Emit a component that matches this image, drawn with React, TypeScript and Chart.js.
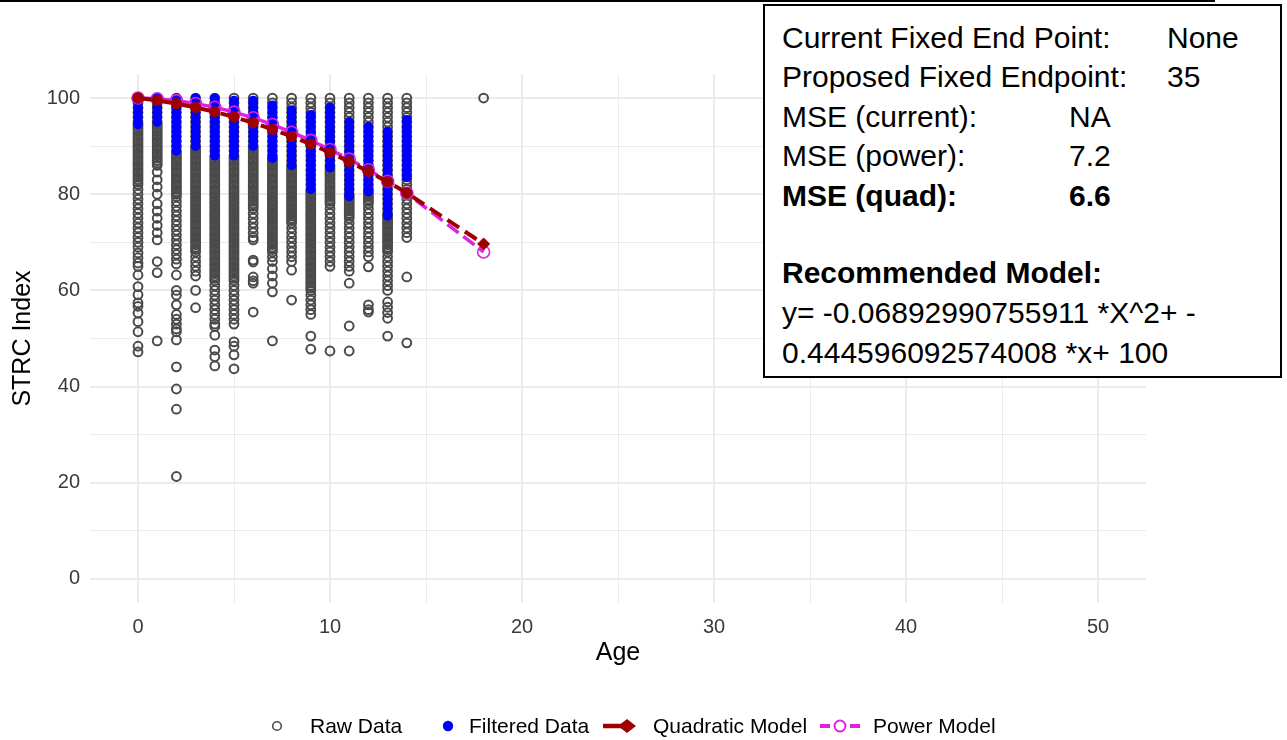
import React, { useEffect, useRef } from 'react';
import { Chart, registerables } from 'chart.js';
Chart.register(...registerables);

// ---------- data ----------
const ages = [0, 1, 2, 3, 4, 5, 6, 7, 8, 9, 10, 11, 12, 13, 14, 18];

const raw0 = [100,99,98,97,96,95,94.5,94,93.5,93,92.5,92,91.5,91,90.5,90,89.5,89,88.5,88,87.5,87,86.5,86,85.5,85,84.5,84,83.5,83,82.5,82,81,80,79,78,77,76,75,74,73,72,71,70,69,67.8,66.8,65.7,65,63.2,60.8,59.1,57.4,56.7,55.3,53.5,51.4,48.4,47.2];
const raw1 = [100,99,98,97,96,95,94.5,94,93.5,93,92.5,92,91.5,91,90.5,90,89.5,89,88.5,88,87.5,87,86.5,86,84.6,83,81.5,80,78,76.5,75,73.5,72,70.5,66,63.7,49.5];
const raw2 = [100,99,98,97,96,95,94,93,92,91,90,89,88.5,88,87.5,87,86.5,86,85.5,85,84.5,84,83.5,83,82.5,82,81.5,81,80.5,80,79.5,78.5,77.5,76.5,75.5,74.5,73.5,72.5,71.5,70.5,69.5,68.5,67.5,66.5,65.5,63.2,60,59,57,55,54,53,52,51.4,49.7,44.1,39.5,35.3,21.3];
const raw3 = [100,99,98,97,96,95,94,93,92,91,90,89.5,89,88.5,88,87.5,87,86.5,86,85.5,85,84.5,84,83.5,83,82.5,82,81.5,81,80.5,80,79.5,79,78.5,78,77.5,77,76.5,76,75.5,75,74.5,74,73.5,73,72.5,72,71.5,71,70.5,70,69.5,69,68.5,68,67,66,65,64,63,60,56.4];
const raw4 = [100,99,98,97,96,95,94,93,92,91,90,89,88,87.5,87,86.5,86,85.5,85,84.5,84,83.5,83,82.5,82,81.5,81,80.5,80,79.5,79,78.5,78,77.5,77,76.5,76,75.5,75,74.5,74,73.5,73,72.5,72,71.5,71,70.5,70,69.5,69,68.5,68,67.5,67,66.5,66,65.5,65,64.5,64,63.5,63,62.5,62,61,60,59,58,57,56,55,54,53,52.5,50.7,47.6,46.2,44.3];
const raw5 = [100,99,98,97,96,95,94,93,92,91,90,89,88,87.5,87,86.5,86,85.5,85,84.5,84,83.5,83,82.5,82,81.5,81,80.5,80,79.5,79,78.5,78,77.5,77,76.5,76,75.5,75,74.5,74,73.5,73,72.5,72,71.5,71,70.5,70,69.5,69,68.5,68,67.5,67,66.5,66,65.5,65,64.5,64,63.5,63,62.5,62,61,60,59,58,57,56,55,54,53,49.3,48.4,46.6,43.7];
const raw6 = [100,99,98,97,96,95,94,93,92,91,90,89.5,89,88.5,88,87.5,87,86.5,86,85.5,85,84.5,84,83.5,83,82.5,82,81.5,81,80.5,80,79.5,79,78.5,78,77.5,77,76,75,74,73,72,71,70.5,66.3,65.9,62.8,62,61.5,55.5];
const raw7 = [100,99,98,97,96,95,94,93,92,91,90,89,88,87.5,87,86.5,86,85.5,85,84.5,84,83.5,83,82.5,82,81.5,81,80.5,80,79.5,79,78.5,78,77.5,77,76.5,76,75.5,75,74.5,74,73.5,73,72.5,72,71.5,71,70.5,70,69.5,69,68.5,68,67,66,64.5,63,61.5,59.7,49.5];
const raw8 = [100,99,98,97,96,95,94,93,92,91,90,89,88,87,86,85.5,85,84.5,84,83.5,83,82.5,82,81.5,81,80.5,80,79.5,79,78.5,78,77.5,77,76.5,76,75.5,75,74.5,74,73,72,71,70,69,68,67,66,64.2,58];
const raw9 = [100,99,98,97,96,95,94,93,92,91,90,89,88,87,86,85,84,83,82,81,80.5,80,79.5,79,78.5,78,77.5,77,76.5,76,75.5,75,74.5,74,73.5,73,72.5,72,71.5,71,70.5,70,69.5,69,68.5,68,67.5,67,66.5,66,65.5,65,64.5,64,63.5,63,62.5,62,61.5,61,60.5,60,59,58,57,56,55,50.5,47.8];
const raw10 = [100,99,98,97,96,95,94,93,92,91,90,89,88,87,86,85.5,85,84.5,84,83.5,83,82.5,82,81.5,81,80.5,80,79.5,79,78.5,78,77,76,75,74,73,72,71,70,69,68,67,66,65,47.4];
const raw11 = [100,99,98,97,96,95,94,93,92,91,90,89,88,87,86,85,84,83,82,81,80,79.5,79,78.5,78,77.5,77,76.5,76,75.5,75,74,73,72,71,70,69,68,67,66,65,64,61.5,52.6,47.4];
const raw12 = [100,99,98,97,96,95,94,93,92,91,90,89,88,87,86,85,84,83,82,81,80.5,80,79.5,79,78.5,78,77,76,75,74,73,72,71,70,69,68,67,64.9,57,56,55.5];
const raw13 = [100,99,98,97,96,95,94,93,92,91,90,89,88,87,86,85,84,83,82,81,80,79,78,77,76,75.5,75,74.5,74,73.5,73,72.5,72,71.5,71,70.5,70,69.5,69,68.5,68,67,66,65,64,63,62,61,60,57.6,56.5,55.4,54.2,50.5];
const raw14 = [100,99,98,97,96,95,94,93,92,91,90,89,88,87,86,85,84,83,82,81,80,79,78,77,76,75,74,73,72,71,62.8,49.1];
const raw18 = [100];
const rawByAge = [raw0, raw1, raw2, raw3, raw4, raw5, raw6, raw7, raw8, raw9, raw10, raw11, raw12, raw13, raw14, raw18];

const blue0 = [100,99,98,97,96,95,94.5];
const blue1 = [100,99,98,97,96,95];
const blue2 = [100,99,98,97,96,95,94,93,92,91,90,89];
const blue3 = [100,99,98,97,96,95,94,93,92,91,90];
const blue4 = [100,99,98,97,96,95,94,93,92,91,90,89,88];
const blue5 = [99.5,99,98,97,96,95,94,93,92,91,90,89,88];
const blue6 = [99.5,99,98,97,96,95,94,93,92,91,90];
const blue7 = [98.5,98,97,96,95,94,93,92,91,90,89,88,87.5];
const blue8 = [97.5,97,96,95,94,93,92,91,90,89,88,87,86];
const blue9 = [96.5,96,95,94,93,92,91,90,89,88,87,86,85,84,83,82,81];
const blue10 = [98,97,96,95,94,93,92,91,90,89,88,87,86,85.5];
const blue11 = [95,94,93,92,91,90,89,88,87,86,85,84,83,82,81,80,79.5];
const blue12 = [94,93,92,91,90,89,88,87,86,85,84,83,82,81,80.5];
const blue13 = [93,92,91,90,89,88,87,86,85,84,83,82,81,80,79,78,77,76,75.5];
const blue14 = [95.5,95,94,93,92,91,90,89,88,87,86,85,84,83.5];
const blueByAge = [blue0, blue1, blue2, blue3, blue4, blue5, blue6, blue7, blue8, blue9, blue10, blue11, blue12, blue13, blue14, []];

const quadValues = [100, 99.49, 98.84, 98.05, 97.12, 96.05, 94.85, 93.51, 92.03, 90.42, 88.66, 86.77, 84.74, 82.57, 80.27, 69.66];
const powerValues = [100, 99.86, 99.47, 98.87, 98.08, 97.08, 95.9, 94.5, 92.9, 91.2, 89.3, 87.3, 85.1, 82.7, 80.2, 68.0];

const xGridValues = [0, 5, 10, 15, 20, 25, 30, 35, 40, 45, 50];
const yGridValues = [0, 10, 20, 30, 40, 50, 60, 70, 80, 90, 100];

const infoRows = [
  { label: 'Current Fixed End Point:', value: 'None', valueX: 1167, bold: false, center: 37 },
  { label: 'Proposed Fixed Endpoint:', value: '35', valueX: 1167, bold: false, center: 76.5 },
  { label: 'MSE (current):', value: 'NA', valueX: 1069, bold: false, center: 116 },
  { label: 'MSE (power):', value: '7.2', valueX: 1069, bold: false, center: 155.3 },
  { label: 'MSE (quad):', value: '6.6', valueX: 1069, bold: true, center: 194.8 },
  { label: 'Recommended Model:', value: '', valueX: 0, bold: true, center: 272 },
  { label: 'y= -0.06892990755911 *X^2+ -', value: '', valueX: 0, bold: false, center: 312 },
  { label: '0.444596092574008 *x+ 100', value: '', valueX: 0, bold: false, center: 352 },
];

const FONT = "'Liberation Sans', Arial, Helvetica, sans-serif";
const RED = '#9e0000';
const MAGENTA = '#de22de';
const GREY = '#4a4a4a';

export default function App() {
  const ref = useRef<HTMLCanvasElement | null>(null);

  useEffect(() => {
    if (!ref.current) return;
    const rawPts: { x: number; y: number }[] = [];
    rawByAge.forEach((arr, i) => arr.forEach((v) => rawPts.push({ x: ages[i], y: v })));
    const bluePts: { x: number; y: number }[] = [];
    blueByAge.forEach((arr, i) => arr.forEach((v) => bluePts.push({ x: ages[i], y: v })));
    const quadPts = ages.map((a, i) => ({ x: a, y: quadValues[i] }));
    const powPts = ages.map((a, i) => ({ x: a, y: powerValues[i] }));

    const chart = new Chart(ref.current, {
      type: 'scatter',
      data: {
        datasets: [
          {
            type: 'line',
            label: 'Quadratic Model',
            data: quadPts,
            borderColor: RED,
            borderWidth: 4,
            borderDash: [14, 7],
            pointStyle: ages.map((a) => (a === 18 ? 'rectRot' : 'circle')),
            pointRadius: ages.map((a) => (a === 18 ? 6 : 5.2)),
            pointBackgroundColor: RED,
            pointBorderColor: RED,
            pointBorderWidth: 1,
            fill: false,
            tension: 0,
            order: 1,
          } as any,
          {
            type: 'line',
            label: 'Power Model',
            data: powPts,
            borderColor: MAGENTA,
            borderWidth: 3.5,
            borderDash: [14, 6],
            pointStyle: 'circle',
            pointRadius: 6,
            pointBackgroundColor: 'rgba(0,0,0,0)',
            pointBorderColor: MAGENTA,
            pointBorderWidth: 1.6,
            fill: false,
            tension: 0,
            order: 2,
          } as any,
          {
            label: 'Filtered Data',
            data: bluePts,
            pointRadius: 4.8,
            backgroundColor: '#0000ff',
            borderColor: '#0000ff',
            borderWidth: 0,
            order: 3,
          },
          {
            label: 'Raw Data',
            data: rawPts,
            pointRadius: 4.4,
            backgroundColor: 'rgba(0,0,0,0)',
            borderColor: GREY,
            borderWidth: 2,
            order: 4,
          },
        ],
      },
      options: {
        animation: false,
        responsive: false,
        maintainAspectRatio: false,
        layout: { padding: { left: 0, right: 1287 - 1146, top: 74, bottom: 60 } },
        plugins: { legend: { display: false }, tooltip: { enabled: false } },
        scales: {
          x: {
            type: 'linear',
            min: -2.5,
            max: 52.5,
            afterBuildTicks: (s: any) => {
              s.ticks = xGridValues.map((v) => ({ value: v }));
            },
            afterFit: (s: any) => {
              s.height = 77;
            },
            ticks: {
              autoSkip: false,
              maxRotation: 0,
              padding: 12,
              color: '#3a3a3a',
              font: { family: FONT, size: 20 },
              callback: (v: any) => (Number(v) % 10 === 0 ? String(v) : ''),
            },
            grid: {
              color: '#ebebeb',
              lineWidth: (ctx: any) => (ctx.tick && ctx.tick.value % 10 === 0 ? 2 : 1),
              drawTicks: false,
            },
            border: { display: false },
            title: {
              display: true,
              text: 'Age',
              color: '#000',
              font: { family: FONT, size: 25 },
              padding: { top: 0, bottom: 12 },
            },
          },
          y: {
            type: 'linear',
            min: -5,
            max: 105,
            afterBuildTicks: (s: any) => {
              s.ticks = yGridValues.map((v) => ({ value: v }));
            },
            afterFit: (s: any) => {
              s.width = 90;
            },
            ticks: {
              autoSkip: false,
              padding: 10,
              color: '#3a3a3a',
              font: { family: FONT, size: 20 },
              callback: (v: any) => (Number(v) % 20 === 0 ? String(v) : ''),
            },
            grid: {
              color: '#ebebeb',
              lineWidth: (ctx: any) => (ctx.tick && ctx.tick.value % 20 === 0 ? 2 : 1),
              drawTicks: false,
            },
            border: { display: false },
            title: {
              display: true,
              text: 'STRC Index',
              color: '#000',
              font: { family: FONT, size: 25 },
              padding: { top: 8, bottom: 0 },
            },
          },
        },
      },
    } as any);
    return () => chart.destroy();
  }, []);

  const legendText: React.CSSProperties = {
    position: 'absolute',
    top: 714,
    fontFamily: FONT,
    fontSize: 21,
    lineHeight: '24px',
    color: '#000',
    whiteSpace: 'nowrap',
  };

  return (
    <div style={{ position: 'absolute', left: 0, top: 0, width: 1287, height: 740, background: '#fff', overflow: 'hidden' }}>
      <canvas ref={ref} width={1287} height={740} style={{ position: 'absolute', left: 0, top: 0, width: 1287, height: 740 }} />
      <div style={{ position: 'absolute', left: 0, top: 0, width: 1215, height: 2, background: '#000' }} />
      <div
        style={{
          position: 'absolute',
          left: 763,
          top: 4,
          width: 519,
          height: 374,
          border: '2px solid #000',
          boxSizing: 'border-box',
          background: '#fff',
        }}
      />
      {infoRows.map((r, i) => (
        <React.Fragment key={i}>
          <div
            style={{
              position: 'absolute',
              left: 782,
              top: r.center - 19.2,
              fontFamily: FONT,
              fontSize: 30,
              lineHeight: '39px',
              fontWeight: r.bold ? 700 : 400,
              color: '#000',
              whiteSpace: 'nowrap',
            }}
          >
            {r.label}
          </div>
          {r.value ? (
            <div
              style={{
                position: 'absolute',
                left: r.valueX,
                top: r.center - 19.2,
                fontFamily: FONT,
                fontSize: 30,
                lineHeight: '39px',
                fontWeight: r.bold ? 700 : 400,
                color: '#000',
                whiteSpace: 'nowrap',
              }}
            >
              {r.value}
            </div>
          ) : null}
        </React.Fragment>
      ))}
      <svg style={{ position: 'absolute', left: 0, top: 706, width: 1287, height: 34 }} width={1287} height={34}>
        <circle cx={277} cy={20} r={4.3} fill="none" stroke={GREY} strokeWidth={1.6} />
        <circle cx={448} cy={20} r={5.2} fill="#0000ff" />
        <line x1={603} y1={20} x2={630} y2={20} stroke={RED} strokeWidth={4.5} />
        <polygon points="623,13 632,20 623,27 614,20" fill={RED} transform="translate(4,0)" />
        <line x1={820} y1={20} x2={830} y2={20} stroke={MAGENTA} strokeWidth={4} />
        <circle cx={840} cy={20} r={5.5} fill="none" stroke={MAGENTA} strokeWidth={2} />
        <line x1={850} y1={20} x2={860} y2={20} stroke={MAGENTA} strokeWidth={4} />
      </svg>
      <span style={{ ...legendText, left: 310 }}>Raw Data</span>
      <span style={{ ...legendText, left: 469 }}>Filtered Data</span>
      <span style={{ ...legendText, left: 653 }}>Quadratic Model</span>
      <span style={{ ...legendText, left: 873 }}>Power Model</span>
    </div>
  );
}
